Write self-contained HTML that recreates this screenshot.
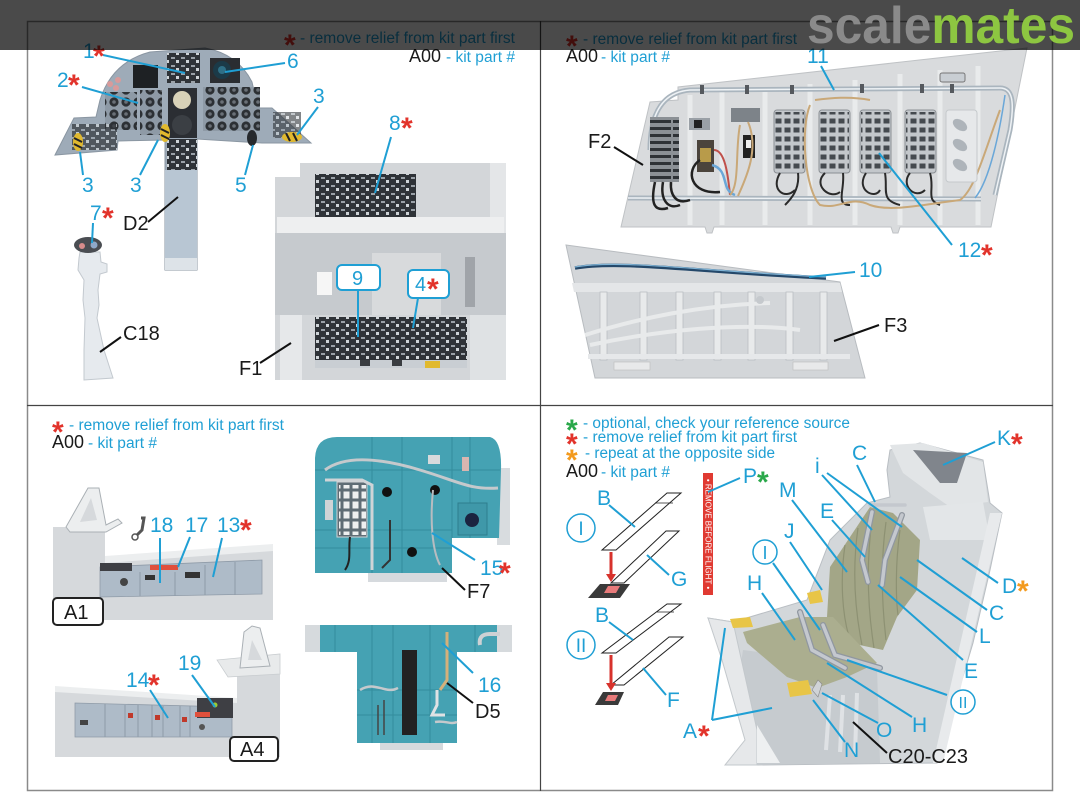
<!DOCTYPE html>
<html><head><meta charset="utf-8"><style>
html,body{margin:0;padding:0;background:#fff;}
svg{display:block;}
text{font-family:"Liberation Sans",Arial,sans-serif;}
.t{fill:#1f9fd4;font-size:21px;}
.k{fill:#1a1a1a;font-size:20px;}
.r{fill:#e2332b;font-size:30px;font-weight:bold;}
.g{fill:#2aa84a;font-size:30px;font-weight:bold;}
.o{fill:#f39a1e;font-size:30px;font-weight:bold;}
.lg{fill:#1f9fd4;font-size:15.5px;}
.a0{fill:#1a1a1a;font-size:18px;}
.lt{stroke:#1f9fd4;stroke-width:2;fill:none;}
.lk{stroke:#111;stroke-width:2;fill:none;}
</style></head><body>
<svg width="1080" height="810" viewBox="0 0 1080 810" xmlns="http://www.w3.org/2000/svg">
<defs>
<pattern id="gauges" width="12" height="12" patternUnits="userSpaceOnUse"><rect width="12" height="12" fill="#8e9aa6"/><circle cx="6" cy="6" r="4.6" fill="#2c3034"/><circle cx="6" cy="6" r="1.8" fill="#6a7077"/></pattern>
<pattern id="pnl" width="10" height="8" patternUnits="userSpaceOnUse"><rect width="10" height="8" fill="#2f3338"/><rect x="1" y="1" width="4" height="2" fill="#9aa1a8"/><rect x="6" y="4" width="3" height="3" fill="#cfd4d8"/></pattern>
<pattern id="grid" width="9" height="9" patternUnits="userSpaceOnUse"><rect x="1.5" y="1.5" width="6" height="5" fill="#454a4f"/></pattern>
<pattern id="fuse" width="28" height="7" patternUnits="userSpaceOnUse"><rect width="28" height="7" fill="#8b9095"/><rect x="1" y="1" width="26" height="3" fill="#2e3236"/></pattern>
<pattern id="keys" width="9" height="10" patternUnits="userSpaceOnUse"><rect x="1.5" y="1.5" width="6" height="7" fill="#eef0f0"/></pattern>
</defs>
<rect width="1080" height="810" fill="#fff"/>

<!-- frame -->
<rect x="27.5" y="21.5" width="1025" height="769" fill="none" stroke="#8a8a8a" stroke-width="1.5"/>
<line x1="540.5" y1="21" x2="540.5" y2="791" stroke="#444" stroke-width="1.2"/>
<line x1="27" y1="405.5" x2="1053" y2="405.5" stroke="#444" stroke-width="1.2"/>

<!-- ================= TOP LEFT ================= -->
<text x="284" y="55" class="r">*</text>
<text x="300" y="43" class="lg" textLength="215" lengthAdjust="spacingAndGlyphs">- remove relief from kit part first</text>
<text x="409" y="62" class="a0">A00</text>
<text x="446" y="62" class="lg" textLength="69" lengthAdjust="spacingAndGlyphs">- kit part #</text>

<!-- instrument panel D2 -->
<path d="M55,155 L74,118 L96,117 L100,100 Q112,62 150,52 L205,48 Q238,54 252,82 L258,108 L272,108 L311,143 L262,143 L197,139 L197,270 L165,270 L165,140 L118,141 L117,150 Z" fill="#9eabb8" stroke="#8a96a2"/>
<rect x="165" y="170" width="32" height="88" fill="#b8c6d3"/>
<rect x="165" y="258" width="32" height="12" fill="#dde3e8"/>
<rect x="167" y="139" width="30" height="31" fill="url(#pnl)"/>
<rect x="133" y="65" width="25" height="23" fill="#1e2124"/>
<rect x="167" y="53" width="33" height="30" fill="url(#pnl)"/>
<rect x="210" y="58" width="30" height="25" fill="#2a2d31"/>
<circle cx="222" cy="70" r="9" fill="#1b3a48"/><circle cx="222" cy="70" r="4" fill="#2f6f86"/>
<rect x="105" y="92" width="32" height="38" fill="url(#gauges)"/>
<circle cx="110" cy="84" r="3" fill="#d99a9a"/><circle cx="118" cy="80" r="3" fill="#d99a9a"/><circle cx="116" cy="88" r="3" fill="#d99a9a"/>
<rect x="140" y="90" width="22" height="45" fill="url(#gauges)"/>
<rect x="168" y="88" width="29" height="50" fill="#2b2e33"/>
<circle cx="182" cy="100" r="9" fill="#d8d2b8"/><circle cx="182" cy="125" r="10" fill="#3b3f44"/>
<rect x="203" y="87" width="57" height="44" fill="url(#gauges)"/>
<rect x="72" y="124" width="45" height="26" fill="url(#pnl)" opacity="0.7"/>
<rect x="273" y="112" width="28" height="26" fill="url(#pnl)" opacity="0.6"/>
<ellipse cx="78" cy="142" rx="5" ry="9" fill="#e1b92e"/><line x1="74" y1="138" x2="82" y2="142" stroke="#222" stroke-width="2"/><line x1="74" y1="144" x2="82" y2="148" stroke="#222" stroke-width="2"/>
<ellipse cx="165" cy="133" rx="5" ry="9" fill="#e1b92e"/><line x1="161" y1="129" x2="169" y2="133" stroke="#222" stroke-width="2"/><line x1="161" y1="135" x2="169" y2="139" stroke="#222" stroke-width="2"/>
<ellipse cx="292" cy="137" rx="10" ry="5" fill="#e1b92e"/><line x1="286" y1="133" x2="290" y2="141" stroke="#222" stroke-width="2"/><line x1="293" y1="133" x2="297" y2="141" stroke="#222" stroke-width="2"/>
<ellipse cx="252" cy="138" rx="5" ry="8" fill="#26292d"/>

<!-- stick C18 -->
<path d="M80,252 L100,252 L101,262 L107,264 L107,272 L100,274 L98,290 L99,305 L97,318 L104,350 L113,378 L84,380 L84,350 L85,318 L83,300 L84,280 L78,270 L79,258 Z" fill="#e6eaee" stroke="#c3c9cf"/>
<ellipse cx="88" cy="245" rx="14" ry="8" fill="#4a4d52"/>
<circle cx="82" cy="246" r="3" fill="#d88c8c"/><circle cx="94" cy="245" r="3.5" fill="#8fa8c8"/>

<!-- F1 console -->
<path d="M275,177 L300,177 L300,163 L506,163 L506,380 L275,380 Z" fill="#d3d6d9"/>
<rect x="490" y="163" width="16" height="217" fill="#e4e6e8"/>
<rect x="315" y="174" width="101" height="43" fill="url(#pnl)"/>
<rect x="277" y="217" width="227" height="16" fill="#eeeff0"/>
<rect x="275" y="233" width="231" height="82" fill="#c6cace"/>
<rect x="372" y="253" width="69" height="62" fill="#d8dadc"/>
<rect x="317" y="272" width="15" height="23" fill="#f6f6f6"/>
<rect x="465" y="257" width="10" height="50" fill="#a0a4a9"/>
<rect x="280" y="315" width="22" height="65" fill="#e6e8ea"/>
<rect x="470" y="315" width="36" height="65" fill="#dfe2e4"/>
<rect x="315" y="317" width="152" height="43" fill="url(#pnl)"/>
<rect x="315" y="360" width="152" height="8" fill="#c9ced3"/>
<rect x="360" y="360" width="10" height="6" fill="#3a3d41"/><rect x="392" y="360" width="10" height="6" fill="#3a3d41"/>
<rect x="425" y="361" width="15" height="7" fill="#e1b92e"/>
<!-- boxes -->
<rect x="337" y="265" width="43" height="25" rx="5" fill="#fff" stroke="#1f9fd4" stroke-width="2"/>
<text x="352" y="285" class="t" style="font-size:20px">9</text>
<rect x="408" y="270" width="41" height="28" rx="5" fill="#fff" stroke="#1f9fd4" stroke-width="2"/>
<text x="415" y="291" class="t" style="font-size:20px">4</text><text x="427" y="299" class="r">*</text>

<!-- TL leaders -->
<line class="lt" x1="103" y1="55" x2="185" y2="73"/>
<line class="lt" x1="82" y1="87" x2="138" y2="103"/>
<line class="lt" x1="285" y1="63" x2="225" y2="72"/>
<line class="lt" x1="318" y1="107" x2="297" y2="135"/>
<line class="lt" x1="83" y1="175" x2="80" y2="152"/>
<line class="lt" x1="140" y1="175" x2="158" y2="140"/>
<line class="lt" x1="245" y1="175" x2="253" y2="145"/>
<line class="lt" x1="391" y1="137" x2="375" y2="193"/>
<line class="lt" x1="93" y1="223" x2="92" y2="243"/>
<line class="lt" x1="358" y1="290" x2="358" y2="337"/>
<line class="lt" x1="418" y1="298" x2="413" y2="328"/>
<line class="lk" x1="148" y1="222" x2="178" y2="197"/>
<line class="lk" x1="121" y1="337" x2="100" y2="352"/>
<line class="lk" x1="260" y1="363" x2="291" y2="343"/>
<!-- TL labels -->
<text x="83" y="58" class="t">1</text><text x="93" y="66" class="r">*</text>
<text x="57" y="87" class="t">2</text><text x="68" y="95" class="r">*</text>
<text x="287" y="68" class="t">6</text>
<text x="313" y="103" class="t">3</text>
<text x="82" y="192" class="t">3</text>
<text x="130" y="192" class="t">3</text>
<text x="235" y="192" class="t">5</text>
<text x="389" y="130" class="t">8</text><text x="401" y="138" class="r">*</text>
<text x="90" y="220" class="t">7</text><text x="102" y="228" class="r">*</text>
<text x="123" y="230" class="k">D2</text>
<text x="123" y="340" class="k">C18</text>
<text x="239" y="375" class="k">F1</text>

<!-- ================= TOP RIGHT ================= -->
<text x="566" y="56" class="r">*</text>
<text x="583" y="44" class="lg" textLength="214" lengthAdjust="spacingAndGlyphs">- remove relief from kit part first</text>
<text x="566" y="62" class="a0">A00</text>
<text x="601" y="62" class="lg" textLength="69" lengthAdjust="spacingAndGlyphs">- kit part #</text>

<!-- F2 -->
<polygon points="678,87 678,100 650,102 621,227 705,227 707,233 712,233 714,227 891,227 893,233 898,233 900,227 991,227 1027,48" fill="#d9dbdd" stroke="#bfc2c5"/>
<g stroke="#e9ebec" stroke-width="5">
<line x1="690" y1="95" x2="690" y2="225"/><line x1="722" y1="92" x2="722" y2="225"/><line x1="765" y1="88" x2="765" y2="225"/><line x1="810" y1="84" x2="810" y2="225"/><line x1="855" y1="80" x2="855" y2="225"/><line x1="900" y1="74" x2="900" y2="225"/><line x1="940" y1="70" x2="940" y2="225"/><line x1="978" y1="66" x2="978" y2="225"/>
</g>
<path d="M650,150 C650,110 665,92 690,90 L1000,88 C1012,88 1015,100 1010,130 L995,195" fill="none" stroke="#aab5be" stroke-width="5"/>
<path d="M650,150 C650,110 665,92 690,90 L1000,88 C1012,88 1015,100 1010,130 L995,195" fill="none" stroke="#eef2f5" stroke-width="1.5"/>
<path d="M628,198 L981,199" fill="none" stroke="#aab5be" stroke-width="5"/>
<path d="M628,198 L981,199" fill="none" stroke="#eef2f5" stroke-width="1.5"/>
<g fill="#55595e"><rect x="700" y="85" width="4" height="9"/><rect x="745" y="85" width="4" height="9"/><rect x="790" y="85" width="4" height="9"/><rect x="860" y="84" width="4" height="9"/><rect x="920" y="84" width="4" height="9"/><rect x="950" y="84" width="4" height="9"/></g>
<rect x="940" y="73" width="25" height="9" rx="2" fill="#c9ced3" stroke="#777"/>
<rect x="650" y="117" width="29" height="65" fill="url(#fuse)"/>
<path d="M655,182 C650,205 655,212 668,208 M663,182 C660,200 668,210 680,205 M671,182 C670,195 676,205 690,200" fill="none" stroke="#222" stroke-width="2.5"/>
<rect x="689" y="118" width="21" height="12" fill="#9aa0a6"/><rect x="694" y="120" width="8" height="8" fill="#222"/>
<rect x="697" y="140" width="17" height="32" fill="#4b443c"/><rect x="700" y="148" width="11" height="14" fill="#b89b4a"/>
<path d="M700,160 C685,170 690,195 720,192" fill="none" stroke="#222" stroke-width="2.5"/>
<path d="M714,150 C725,150 728,175 730,195" fill="none" stroke="#c0504a" stroke-width="2"/>
<path d="M712,165 C730,170 720,190 735,195" fill="none" stroke="#6aa7d8" stroke-width="2.5"/>
<rect x="731" y="108" width="29" height="14" fill="#7d8389"/>
<rect x="743" y="135" width="12" height="23" fill="#222"/><rect x="746" y="140" width="5" height="8" fill="#eee"/>
<path d="M740,125 C735,150 740,185 730,195 M748,122 C760,150 745,180 738,196" fill="none" stroke="#c9a878" stroke-width="2"/>
<g>
<rect x="774" y="110" width="31" height="63" rx="3" fill="#c3c7cb" stroke="#8a8f94"/><rect x="775" y="112" width="29" height="58" fill="url(#grid)"/>
<rect x="819" y="110" width="31" height="63" rx="3" fill="#c3c7cb" stroke="#8a8f94"/><rect x="820" y="112" width="29" height="58" fill="url(#grid)"/>
<rect x="860" y="110" width="31" height="63" rx="3" fill="#c3c7cb" stroke="#8a8f94"/><rect x="861" y="112" width="29" height="58" fill="url(#grid)"/>
<rect x="905" y="110" width="31" height="63" rx="3" fill="#c3c7cb" stroke="#8a8f94"/><rect x="906" y="112" width="29" height="58" fill="url(#grid)"/>
</g>
<path d="M780,173 C770,190 785,200 795,190 M798,173 C800,190 790,200 785,205 M825,173 C812,185 830,200 840,192 M843,173 C845,190 835,205 850,205 M866,173 C855,190 875,200 880,190 M885,173 C888,190 880,200 900,205 M910,173 C900,185 915,200 925,190 M930,173 C935,190 925,200 940,205" fill="none" stroke="#2a2a2a" stroke-width="2"/>
<path d="M810,105 C800,130 805,190 820,205 C840,210 850,195 870,205 C890,212 920,205 960,200 C975,190 985,150 1000,110" fill="none" stroke="#c9a878" stroke-width="2"/>
<path d="M815,100 C830,98 850,96 870,100" fill="none" stroke="#c9a878" stroke-width="2"/>
<rect x="946" y="110" width="31" height="72" rx="3" fill="#e6e8ea" stroke="#c5c9cc"/>
<ellipse cx="960" cy="125" rx="8" ry="5" fill="#aeb4ba" transform="rotate(35 960 125)"/>
<ellipse cx="960" cy="145" rx="8" ry="5" fill="#aeb4ba" transform="rotate(35 960 145)"/>
<ellipse cx="960" cy="165" rx="8" ry="5" fill="#aeb4ba" transform="rotate(35 960 165)"/>
<path d="M1005,95 C1000,130 990,180 975,198" fill="none" stroke="#6aa7d8" stroke-width="1.5"/>

<!-- F3 -->
<polygon points="566,245 840,282 865,378 595,378" fill="#d3d6d9" stroke="#b8bcc0"/>
<polygon points="572,283 840,283 842,292 574,292" fill="#e4e6e8"/>
<g fill="#e8eaeb" stroke="#babec2" stroke-width="0.8">
<rect x="600" y="292" width="7" height="68"/><rect x="640" y="292" width="7" height="68"/><rect x="676" y="292" width="7" height="68"/><rect x="714" y="292" width="7" height="68"/><rect x="748" y="292" width="7" height="68"/><rect x="786" y="292" width="7" height="68"/><rect x="820" y="292" width="7" height="68"/>
</g>
<path d="M585,335 C640,318 700,305 770,303 M590,345 C660,330 740,322 800,330" fill="none" stroke="#e8eaeb" stroke-width="4"/>
<rect x="588" y="354" width="262" height="5" fill="#e6e8ea"/>
<rect x="614" y="362" width="36" height="8" fill="#e8e9ea" stroke="#bbb" stroke-width="0.6"/>
<rect x="793" y="362" width="35" height="8" fill="#e8e9ea" stroke="#bbb" stroke-width="0.6"/>
<circle cx="760" cy="300" r="4" fill="#c5c9cd"/>
<path d="M575,268 C620,260 700,272 826,278" fill="none" stroke="#24486a" stroke-width="3.5"/>
<path d="M575,267 C620,259 700,271 826,277" fill="none" stroke="#7fb3d5" stroke-width="1.2"/>

<!-- TR leaders -->
<line class="lt" x1="821" y1="66" x2="834" y2="90"/>
<line class="lt" x1="952" y1="245" x2="879" y2="153"/>
<line class="lt" x1="855" y1="272" x2="809" y2="277"/>
<line class="lk" x1="614" y1="147" x2="643" y2="165"/>
<line class="lk" x1="879" y1="325" x2="834" y2="341"/>
<text x="807" y="63" class="t">11</text>
<text x="588" y="148" class="k">F2</text>
<text x="958" y="257" class="t">12</text><text x="981" y="265" class="r">*</text>
<text x="859" y="277" class="t">10</text>
<text x="884" y="332" class="k">F3</text>

<!-- ================= BOTTOM LEFT ================= -->
<text x="52" y="442" class="r">*</text>
<text x="69" y="430" class="lg" textLength="215" lengthAdjust="spacingAndGlyphs">- remove relief from kit part first</text>
<text x="52" y="448" class="a0">A00</text>
<text x="88" y="448" class="lg" textLength="69" lengthAdjust="spacingAndGlyphs">- kit part #</text>

<!-- A1 -->
<polygon points="53,527 105,527 105,560 273,548 273,620 53,620" fill="#d6d9dc"/>
<polygon points="66,527 88,488 99,488 106,525 118,519 122,523 106,532 70,532" fill="#eceeef" stroke="#aab0b5"/>
<polygon points="80,522 91,498 97,520" fill="#d6d9dc"/>
<polygon points="105,556 273,544 273,551 105,563" fill="#eceeef"/>
<polygon points="100,567 262,560 262,594 100,597" fill="#aebbc8" stroke="#8f9ba8" stroke-width="0.8"/>
<rect x="100" y="563" width="32" height="8" fill="#3e3f44"/>
<rect x="150" y="565" width="28" height="5" fill="#e0503c"/>
<rect x="145" y="575" width="10" height="5" fill="#333"/><rect x="185" y="572" width="15" height="6" fill="#333"/>
<circle cx="124" cy="582" r="4" fill="#444"/>
<g stroke="#8f9ba8" stroke-width="1"><line x1="140" y1="572" x2="140" y2="596"/><line x1="175" y1="572" x2="175" y2="596"/><line x1="205" y1="565" x2="205" y2="595"/><line x1="235" y1="562" x2="235" y2="595"/></g>
<path d="M141,518 L144,518 L142,530 L137,535" fill="none" stroke="#555" stroke-width="3"/>
<circle cx="135" cy="537" r="3" fill="none" stroke="#555" stroke-width="1.5"/>
<rect x="53" y="598" width="50" height="27" rx="4" fill="#fff" stroke="#222" stroke-width="2"/>
<text x="64" y="619" class="k">A1</text>

<!-- A4 -->
<polygon points="55,690 237,702 237,672 280,668 280,757 55,757" fill="#d6d9dc"/>
<polygon points="55,686 237,698 237,703 55,692" fill="#eceeef"/>
<polygon points="217,660 280,654 280,674 228,677" fill="#e8eaeb" stroke="#c9cdd0" stroke-width="0.8"/>
<polygon points="240,668 244,632 252,626 260,628 270,666" fill="#eceeef" stroke="#aab0b5"/>
<polygon points="248,660 252,640 262,660" fill="#d6d9dc"/>
<polygon points="75,703 232,707 232,737 75,737" fill="#aebbc8" stroke="#8f9ba8" stroke-width="0.8"/>
<rect x="197" y="698" width="36" height="20" fill="#3e3f44"/>
<circle cx="215" cy="705" r="2.5" fill="#9acd32"/>
<rect x="195" y="712" width="15" height="5" fill="#e0503c"/>
<g fill="#c0392b"><rect x="128" y="713" width="5" height="5"/><rect x="155" y="715" width="5" height="5"/><rect x="182" y="717" width="5" height="5"/></g>
<rect x="80" y="720" width="8" height="5" fill="#444"/>
<circle cx="202" cy="727" r="3" fill="#555"/>
<g stroke="#8f9ba8" stroke-width="1"><line x1="105" y1="704" x2="105" y2="737"/><line x1="125" y1="705" x2="125" y2="737"/><line x1="138" y1="705" x2="138" y2="737"/><line x1="152" y1="705" x2="152" y2="737"/><line x1="163" y1="706" x2="163" y2="737"/><line x1="180" y1="706" x2="180" y2="737"/><line x1="190" y1="706" x2="190" y2="737"/></g>
<rect x="230" y="737" width="48" height="24" rx="4" fill="#fff" stroke="#222" stroke-width="2"/>
<text x="240" y="756" class="k">A4</text>

<!-- F7 teal -->
<rect x="497" y="468" width="13" height="77" fill="#d8dcdf"/>
<rect x="368" y="572" width="79" height="10" fill="#d6dade"/>
<path d="M315,458 Q316,437 337,437 L490,437 Q502,440 501,470 L499,538 L452,538 L452,573 L315,573 Z" fill="#45a2b3"/>
<g stroke="#338c9c" stroke-width="1"><line x1="372" y1="437" x2="372" y2="573"/><line x1="402" y1="437" x2="402" y2="573"/><line x1="452" y1="437" x2="452" y2="538"/><line x1="470" y1="437" x2="470" y2="538"/><line x1="315" y1="470" x2="500" y2="470"/><line x1="315" y1="530" x2="452" y2="530"/><line x1="315" y1="548" x2="452" y2="548"/></g>
<circle cx="387" cy="492" r="5" fill="#111"/><circle cx="435" cy="490" r="5" fill="#111"/><circle cx="412" cy="552" r="5" fill="#111"/>
<rect x="458" y="503" width="29" height="32" fill="#3f98a9" stroke="#2e7e8e"/><circle cx="472" cy="520" r="7" fill="#1b2440"/>
<rect x="337" y="482" width="30" height="55" fill="#5f6d75" stroke="#d0d4d6"/><rect x="339" y="485" width="27" height="50" fill="url(#keys)"/>
<path d="M325,470 C345,455 380,458 420,470 S470,490 498,488" fill="none" stroke="#c5c9cc" stroke-width="3"/>
<path d="M433,490 C430,520 432,550 440,565" fill="none" stroke="#b8bcc0" stroke-width="2"/>
<path d="M325,480 L362,480 L372,485 L372,570" fill="none" stroke="#d0d4d7" stroke-width="3"/>
<rect x="325" y="500" width="8" height="20" fill="#cfd3d6"/>
<path d="M350,537 C348,550 352,560 345,570" fill="none" stroke="#222" stroke-width="2"/>
<path d="M390,520 L390,560 L382,568" fill="none" stroke="#333" stroke-width="2"/>
<rect x="462" y="457" width="7" height="14" fill="#d9b6b0"/>
<rect x="428" y="455" width="12" height="9" fill="#d7dadc"/>

<!-- D5 teal -->
<rect x="305" y="625" width="207" height="27" fill="#d6dadd"/>
<rect x="320" y="625" width="177" height="27" fill="#45a2b3"/>
<rect x="357" y="652" width="100" height="91" fill="#45a2b3"/>
<rect x="380" y="743" width="63" height="7" fill="#d6dadd"/>
<g stroke="#338c9c" stroke-width="1"><line x1="372" y1="625" x2="372" y2="743"/><line x1="430" y1="625" x2="430" y2="743"/><line x1="393" y1="625" x2="393" y2="743"/><line x1="335" y1="625" x2="335" y2="652"/><line x1="475" y1="625" x2="475" y2="652"/><line x1="357" y1="690" x2="457" y2="690"/><line x1="357" y1="715" x2="457" y2="715"/></g>
<rect x="402" y="650" width="15" height="85" fill="#222"/>
<path d="M447,632 L447,680 L440,690" fill="none" stroke="#d5b07a" stroke-width="3"/>
<path d="M480,645 Q478,634 490,634 L500,634" fill="none" stroke="#cdd1d4" stroke-width="4"/>
<path d="M360,690 C375,680 385,695 398,688" fill="none" stroke="#c5c9cc" stroke-width="2.5"/>
<path d="M437,690 L437,705 L432,715 L445,715" fill="none" stroke="#dfe2e4" stroke-width="3"/>
<path d="M435,722 C445,720 450,725 457,722" fill="none" stroke="#c5c9cc" stroke-width="2.5"/>
<path d="M378,705 L378,735 M384,700 L384,735" fill="none" stroke="#444" stroke-width="1.5"/>

<!-- BL leaders -->
<line class="lt" x1="160" y1="538" x2="160" y2="583"/>
<line class="lt" x1="190" y1="537" x2="178" y2="567"/>
<line class="lt" x1="222" y1="538" x2="213" y2="577"/>
<line class="lt" x1="150" y1="690" x2="168" y2="718"/>
<line class="lt" x1="192" y1="675" x2="215" y2="707"/>
<line class="lt" x1="475" y1="560" x2="432" y2="533"/>
<line class="lt" x1="473" y1="673" x2="442" y2="643"/>
<line class="lk" x1="465" y1="590" x2="442" y2="568"/>
<line class="lk" x1="473" y1="703" x2="447" y2="683"/>
<text x="150" y="532" class="t">18</text>
<text x="185" y="532" class="t">17</text>
<text x="217" y="532" class="t">13</text><text x="240" y="540" class="r">*</text>
<text x="126" y="687" class="t">14</text><text x="148" y="695" class="r">*</text>
<text x="178" y="670" class="t">19</text>
<text x="480" y="575" class="t">15</text><text x="499" y="583" class="r">*</text>
<text x="467" y="598" class="k">F7</text>
<text x="478" y="692" class="t">16</text>
<text x="475" y="718" class="k">D5</text>

<!-- ================= BOTTOM RIGHT ================= -->
<text x="566" y="440" class="g">*</text>
<text x="583" y="428" class="lg" textLength="267" lengthAdjust="spacingAndGlyphs">- optional, check your reference source</text>
<text x="566" y="454" class="r">*</text>
<text x="583" y="442" class="lg" textLength="214" lengthAdjust="spacingAndGlyphs">- remove relief from kit part first</text>
<text x="566" y="470" class="o">*</text>
<text x="585" y="458" class="lg" textLength="190" lengthAdjust="spacingAndGlyphs">- repeat at the opposite side</text>
<text x="566" y="477" class="a0">A00</text>
<text x="601" y="477" class="lg" textLength="69" lengthAdjust="spacingAndGlyphs">- kit part #</text>

<!-- belt diagrams -->
<polygon points="602,550 616,550 681,493 667,493" fill="#fff" stroke="#222" stroke-width="1"/>
<line x1="655" y1="503" x2="673" y2="503" stroke="#222" stroke-width="0.8"/>
<polygon points="611,583 624,583 679,531 666,531" fill="#fff" stroke="#222" stroke-width="1"/>
<line x1="611" y1="552" x2="611" y2="576" stroke="#d7322c" stroke-width="3"/>
<polygon points="606,574 616,574 611,582" fill="#d7322c"/>
<polygon points="588,598 600,584 630,584 620,598" fill="#3a3a3a"/>
<polygon points="604,593 608,586 620,586 616,593" fill="#e87a7a"/>
<polygon points="602,653 616,653 681,604 667,604" fill="#fff" stroke="#222" stroke-width="1"/>
<line x1="657" y1="612" x2="674" y2="612" stroke="#222" stroke-width="0.8"/>
<polygon points="611,685 624,685 683,637 669,637" fill="#fff" stroke="#222" stroke-width="1"/>
<line x1="611" y1="655" x2="611" y2="685" stroke="#d7322c" stroke-width="3"/>
<polygon points="606,683 616,683 611,691" fill="#d7322c"/>
<polygon points="595,705 603,692 624,692 618,705" fill="#3a3a3a"/>
<polygon points="605,701 608,695 618,695 615,701" fill="#e87a7a"/>
<circle cx="581" cy="528" r="14" fill="none" stroke="#1f9fd4" stroke-width="1.5"/>
<text x="581" y="535" class="t" text-anchor="middle" style="font-size:19px">I</text>
<circle cx="581" cy="645" r="14" fill="none" stroke="#1f9fd4" stroke-width="1.5"/>
<text x="581" y="652" class="t" text-anchor="middle" style="font-size:19px">II</text>

<!-- remove before flight tag -->
<rect x="703" y="473" width="10" height="122" fill="#e03a32"/>
<text transform="translate(705.5,534) rotate(90)" text-anchor="middle" style="font-size:8px;fill:#fff">• REMOVE BEFORE FLIGHT •</text>

<!-- seat -->
<polygon points="890,450 920,443 983,460 990,503 1002,513 990,570 973,643 937,763 757,765 757,730 737,690 723,643 708,618 733,622 807,600 830,540 867,503 890,497 887,470" fill="#d3d7da" stroke="#b9bec3"/>
<polygon points="890,445 923,443 983,462 988,502 950,507 930,493 903,473" fill="#e2e5e7"/>
<polygon points="913,450 967,453 957,483 940,483" fill="#80858c"/>
<polygon points="923,507 983,502 990,540 930,540" fill="#e3e6e8"/>
<polygon points="990,513 1002,513 943,763 933,763" fill="#e8eaec"/>
<polygon points="743,650 877,668 880,763 757,765 757,730 737,690" fill="#c6cbcf"/>
<g stroke="#dfe2e5" stroke-width="4"><line x1="830" y1="695" x2="826" y2="750"/><line x1="843" y1="695" x2="840" y2="752"/><line x1="857" y1="693" x2="855" y2="755"/></g>
<polygon points="708,618 733,622 757,730 757,765 725,765 745,740 722,660" fill="#e6e8ea" stroke="#c3c8cc"/>
<polygon points="757,725 780,763 757,763" fill="#eef0f1"/>
<polygon points="830,567 870,507 893,513 920,540 917,590 897,617 883,650 850,643 827,617" fill="#a3a687"/>
<g stroke="#8d9173" stroke-width="1.2" fill="none"><path d="M845,545 C840,580 842,615 850,640"/><path d="M858,528 C852,570 855,610 862,645"/><path d="M872,520 C866,565 868,610 874,648"/><path d="M886,522 C880,565 882,605 886,640"/><path d="M900,530 C895,565 896,600 898,615"/></g>
<polygon points="743,632 800,617 833,617 877,663 847,677 817,688 787,677 747,643" fill="#abae8f"/>
<g stroke="#9097a0" stroke-width="6" fill="none" stroke-linecap="round">
<path d="M872,512 L862,560 L868,582"/><path d="M902,515 L885,560 L882,585"/>
<path d="M800,612 L812,650 L845,668"/><path d="M823,625 L835,655 L880,668"/>
</g>
<g stroke="#c4c8ce" stroke-width="3.5" fill="none" stroke-linecap="round">
<path d="M872,512 L862,560 L868,582"/><path d="M902,515 L885,560 L882,585"/>
<path d="M800,612 L812,650 L845,668"/><path d="M823,625 L835,655 L880,668"/>
<path d="M870,505 L905,505"/>
</g>
<polygon points="787,683 808,680 812,694 790,697" fill="#e8c547"/>
<polygon points="730,619 750,617 753,627 733,628" fill="#e8c547"/>
<polygon points="807,593 820,590 823,602 810,604" fill="#e8c547"/>
<polygon points="812,690 818,680 822,684 818,697" fill="#d0d3d6" stroke="#888" stroke-width="0.6"/>

<!-- BR leaders -->
<line class="lt" x1="740" y1="478" x2="708" y2="492"/>
<line class="lt" x1="609" y1="505" x2="635" y2="527"/>
<line class="lt" x1="669" y1="575" x2="647" y2="555"/>
<line class="lt" x1="609" y1="622" x2="633" y2="640"/>
<line class="lt" x1="666" y1="695" x2="643" y2="668"/>
<line class="lt" x1="995" y1="442" x2="943" y2="465"/>
<line class="lt" x1="822" y1="475" x2="872" y2="530"/>
<line class="lt" x1="827" y1="473" x2="902" y2="527"/>
<line class="lt" x1="857" y1="465" x2="875" y2="502"/>
<line class="lt" x1="792" y1="500" x2="847" y2="572"/>
<line class="lt" x1="832" y1="520" x2="865" y2="557"/>
<line class="lt" x1="790" y1="542" x2="822" y2="590"/>
<line class="lt" x1="773" y1="563" x2="820" y2="630"/>
<line class="lt" x1="762" y1="593" x2="795" y2="640"/>
<line class="lt" x1="998" y1="583" x2="962" y2="558"/>
<line class="lt" x1="987" y1="610" x2="917" y2="560"/>
<line class="lt" x1="977" y1="632" x2="900" y2="577"/>
<line class="lt" x1="963" y1="660" x2="878" y2="585"/>
<line class="lt" x1="947" y1="695" x2="847" y2="660"/>
<line class="lt" x1="912" y1="717" x2="827" y2="663"/>
<line class="lt" x1="878" y1="723" x2="822" y2="693"/>
<line class="lt" x1="845" y1="742" x2="813" y2="700"/>
<line class="lt" x1="712" y1="720" x2="725" y2="628"/>
<line class="lt" x1="712" y1="720" x2="772" y2="708"/>
<line class="lk" x1="887" y1="753" x2="853" y2="722"/>
<circle cx="765" cy="552" r="12" fill="#fff" stroke="#1f9fd4" stroke-width="1.5"/>
<text x="765" y="559" class="t" text-anchor="middle" style="font-size:18px">I</text>
<circle cx="963" cy="702" r="12" fill="#fff" stroke="#1f9fd4" stroke-width="1.5"/>
<text x="963" y="708" class="t" text-anchor="middle" style="font-size:16px">II</text>
<text x="743" y="483" class="t">P</text><text x="757" y="492" class="g">*</text>
<text x="597" y="505" class="t">B</text>
<text x="671" y="586" class="t">G</text>
<text x="595" y="622" class="t">B</text>
<text x="667" y="707" class="t">F</text>
<text x="852" y="460" class="t">C</text>
<text x="997" y="445" class="t">K</text><text x="1011" y="454" class="r">*</text>
<text x="815" y="473" class="t">i</text>
<text x="779" y="497" class="t">M</text>
<text x="820" y="518" class="t">E</text>
<text x="784" y="538" class="t">J</text>
<text x="747" y="590" class="t">H</text>
<text x="1002" y="593" class="t">D</text><text x="1017" y="601" class="o">*</text>
<text x="989" y="620" class="t">C</text>
<text x="979" y="643" class="t">L</text>
<text x="964" y="678" class="t">E</text>
<text x="912" y="732" class="t">H</text>
<text x="876" y="737" class="t">O</text>
<text x="844" y="757" class="t">N</text>
<text x="888" y="763" class="k">C20-C23</text>
<text x="683" y="738" class="t">A</text><text x="698" y="746" class="r">*</text>

<!-- banner overlay -->
<rect x="0" y="0" width="1080" height="50" fill="#000" fill-opacity="0.71"/>
<text x="807" y="43" textLength="268" lengthAdjust="spacingAndGlyphs" style="font-size:52px;font-weight:bold;fill:#8a8a8a">scale<tspan style="fill:#8dc641">mates</tspan></text>
</svg>
</body></html>
